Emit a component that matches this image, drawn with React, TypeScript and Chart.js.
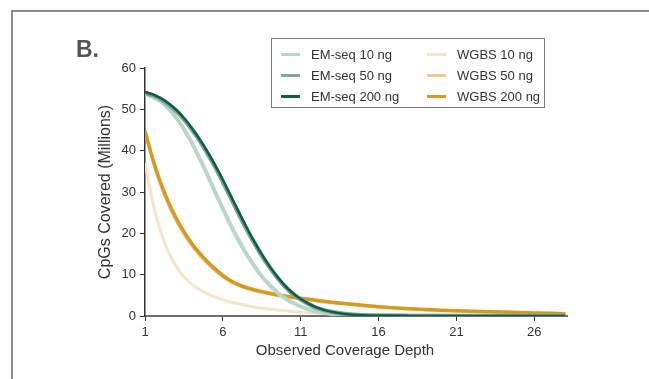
import React, { useEffect, useRef } from "react";
import { Chart, registerables } from "chart.js";

Chart.register(...registerables);

const DEPTHS = [1, 1.5, 2, 2.5, 3, 3.5, 4, 4.5, 5, 5.5, 6, 6.5, 7, 7.5, 8, 8.5, 9, 9.5, 10, 10.5, 11, 11.5, 12, 13, 14, 15, 16, 18, 20, 22, 24, 26, 28];

const EM_10 = [53.7, 53.0, 51.9, 50.2, 48.0, 45.2, 41.9, 38.2, 34.2, 30.0, 25.9, 22.0, 18.4, 15.1, 12.2, 9.6, 7.5, 5.7, 4.3, 3.2, 2.3, 1.6, 1.1, 0.5, 0.22, 0.1, 0.05, 0.02, 0.01, 0.01, 0.01, 0.01, 0.01];
const EM_50 = [54.0, 53.4, 52.5, 51.2, 49.6, 47.6, 45.2, 42.5, 39.4, 36.1, 32.5, 28.7, 24.9, 21.2, 17.8, 14.6, 11.8, 9.3, 7.1, 5.3, 4.0, 2.9, 2.0, 0.95, 0.42, 0.19, 0.09, 0.03, 0.01, 0.01, 0.01, 0.01, 0.01];
const EM_200 = [54.2, 53.6, 52.7, 51.5, 49.9, 47.9, 45.5, 42.8, 39.8, 36.5, 32.9, 29.1, 25.3, 21.6, 18.1, 14.9, 12.0, 9.5, 7.3, 5.5, 4.1, 3.0, 2.1, 1.0, 0.45, 0.2, 0.1, 0.03, 0.01, 0.01, 0.01, 0.01, 0.01];
const WGBS_10 = [37.0, 27.5, 20.5, 15.5, 12.0, 9.5, 7.7, 6.4, 5.4, 4.6, 3.95, 3.4, 2.95, 2.55, 2.2, 1.9, 1.65, 1.45, 1.25, 1.1, 0.95, 0.85, 0.75, 0.6, 0.5, 0.42, 0.36, 0.28, 0.22, 0.18, 0.15, 0.12, 0.1];
const WGBS_50 = [44.5, 37.5, 31.7, 27.0, 23.1, 19.8, 17.0, 14.7, 12.7, 11.0, 9.5, 8.3, 7.4, 6.7, 6.15, 5.7, 5.3, 4.95, 4.65, 4.4, 4.15, 3.9, 3.65, 3.2, 2.85, 2.5, 2.15, 1.7, 1.35, 1.1, 0.9, 0.72, 0.55];
const WGBS_200 = [44.8, 38.0, 32.3, 27.6, 23.7, 20.4, 17.6, 15.2, 13.2, 11.4, 9.8, 8.55, 7.6, 6.9, 6.35, 5.9, 5.5, 5.15, 4.85, 4.55, 4.3, 4.05, 3.8, 3.35, 2.95, 2.6, 2.25, 1.75, 1.4, 1.15, 0.95, 0.75, 0.55];

const X_TICKS = [1, 6, 11, 16, 21, 26];
const Y_TICKS = [0, 10, 20, 30, 40, 50, 60];

const SERIES_LABELS = ["EM-seq 10 ng", "EM-seq 50 ng", "EM-seq 200 ng", "WGBS 10 ng", "WGBS 50 ng", "WGBS 200 ng"];
const SERIES_DATA = [EM_10, EM_50, EM_200, WGBS_10, WGBS_50, WGBS_200];
const SERIES_COLORS = ["#bad5ca", "#7fa698", "#0c5d48", "#f4e5c8", "#ecc98a", "#d59a22"];
const SERIES_WIDTHS = [4, 4.5, 2.5, 3, 3, 3.5];
const SERIES_ORDER = [3, 2, 1, 6, 5, 4];

const FONT = "'Liberation Sans', Arial, Helvetica, sans-serif";
const TEXT = "#333333";

export default function App() {
  const ref = useRef<HTMLCanvasElement | null>(null);

  useEffect(() => {
    if (!ref.current) return;
    const datasets = SERIES_LABELS.map((label, i) => ({
      label,
      data: DEPTHS.map((d, j) => ({ x: d, y: SERIES_DATA[i][j] })),
      borderColor: SERIES_COLORS[i],
      backgroundColor: SERIES_COLORS[i],
      borderWidth: SERIES_WIDTHS[i],
      pointRadius: 0,
      cubicInterpolationMode: "monotone" as const,
      fill: false,
      order: SERIES_ORDER[i],
    }));
    const chart = new Chart(ref.current, {
      type: "line",
      data: { datasets },
      options: {
        animation: false,
        responsive: false,
        layout: { padding: { left: 90, top: 68, right: 82, bottom: 0 } },
        plugins: { legend: { display: false }, tooltip: { enabled: false } },
        scales: {
          x: {
            type: "linear",
            min: 1,
            max: 28.1,
            afterBuildTicks: (s: any) => {
              s.ticks = X_TICKS.map((v) => ({ value: v }));
            },
            afterFit: (s: any) => {
              s.height = 63;
            },
            border: { display: true, color: "#6e6e6e", width: 2 },
            grid: { drawOnChartArea: false, drawTicks: true, tickLength: 5, color: "#333", lineWidth: 1 },
            ticks: { color: TEXT, font: { family: FONT, size: 13 }, padding: 4, autoSkip: false, maxRotation: 0 },
          },
          y: {
            type: "linear",
            min: 0,
            max: 60,
            afterBuildTicks: (s: any) => {
              s.ticks = Y_TICKS.map((v) => ({ value: v }));
            },
            afterFit: (s: any) => {
              s.width = 55;
            },
            border: { display: true, color: "#333", width: 1.5 },
            grid: { drawOnChartArea: false, drawTicks: true, tickLength: 5, color: "#333", lineWidth: 1 },
            ticks: { color: TEXT, font: { family: FONT, size: 13 }, padding: 4 },
            title: {
              display: true,
              text: "CpGs Covered (Millions)",
              color: TEXT,
              font: { family: FONT, size: 16 },
              padding: { top: 6, bottom: 0 },
            },
          },
        },
      },
    });
    return () => chart.destroy();
  }, []);

  const legendRow = (i: number) => (
    <div key={i} style={{ display: "flex", alignItems: "center", height: 21 }}>
      <span style={{ display: "inline-block", width: 19, height: 3, background: SERIES_COLORS[i], marginRight: 11 }} />
      <span>{SERIES_LABELS[i]}</span>
    </div>
  );

  return (
    <div style={{ position: "absolute", left: 0, top: 0, width: 649, height: 379, background: "#fff", overflow: "hidden", fontFamily: FONT }}>
      <div style={{ position: "absolute", left: 11, top: 10, width: 700, height: 500, borderLeft: "2px solid #8c8c8c", borderTop: "2px solid #8c8c8c" }} />
      <canvas ref={ref} width={649} height={379} style={{ position: "absolute", left: 0, top: 0, display: "block" }} />
      <div style={{ position: "absolute", left: 76, top: 35, fontSize: 23, fontWeight: "bold", color: "#555", lineHeight: "28px" }}>B.</div>
      <div
        style={{
          position: "absolute",
          left: 271,
          top: 38,
          width: 274,
          height: 70,
          border: "1px solid #7a7a7a",
          boxSizing: "border-box",
          fontSize: 13,
          color: TEXT,
          display: "flex",
          paddingLeft: 9,
          paddingTop: 5,
        }}
      >
        <div style={{ width: 146 }}>{[0, 1, 2].map(legendRow)}</div>
        <div>{[3, 4, 5].map(legendRow)}</div>
      </div>
      <div style={{ position: "absolute", left: 245, width: 200, top: 341, textAlign: "center", fontSize: 15, color: TEXT, lineHeight: "18px" }}>
        Observed Coverage Depth
      </div>
    </div>
  );
}
